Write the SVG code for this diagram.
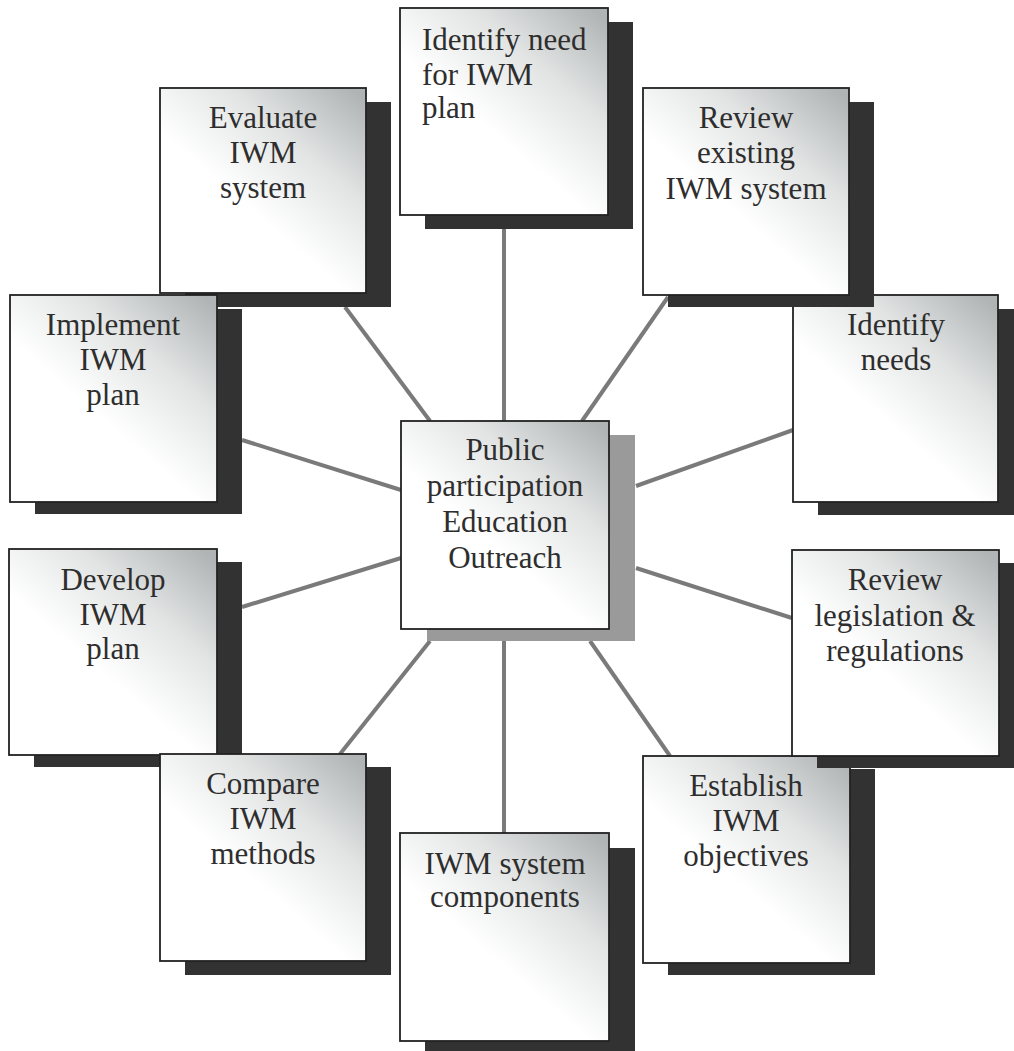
<svg xmlns="http://www.w3.org/2000/svg" width="1014" height="1051" viewBox="0 0 1014 1051">
<style>
.box{fill:url(#g);stroke:#222;stroke-width:1.8}
.sh{fill:#323232}
.shc{fill:#9a9a9a}
.t{font-family:"Liberation Serif","Times New Roman",serif;font-size:31px;fill:#2e2e2e;text-anchor:middle}
.tl{text-anchor:start}
.c{stroke:#7a7a7a;stroke-width:4;fill:none;stroke-linecap:butt}
</style>
<defs>
<linearGradient id="g" x1="0.95" y1="0.02" x2="0.45" y2="0.6">
<stop offset="0" stop-color="#b0b4b4"/>
<stop offset="0.5" stop-color="#e2e4e4"/>
<stop offset="1" stop-color="#ffffff"/>
</linearGradient>
</defs>
<rect width="1014" height="1051" fill="#ffffff"/>
<g id="connectors">
<line class="c" x1="504" y1="229" x2="504" y2="421"/>
<line class="c" x1="504" y1="641" x2="504" y2="833"/>
<line class="c" x1="345" y1="307" x2="430" y2="421"/>
<line class="c" x1="668" y1="297" x2="582" y2="421"/>
<line class="c" x1="242" y1="440" x2="401" y2="490"/>
<line class="c" x1="793" y1="430" x2="636" y2="486"/>
<line class="c" x1="242" y1="607" x2="401" y2="558"/>
<line class="c" x1="636" y1="568" x2="792" y2="618"/>
<line class="c" x1="430" y1="641" x2="340" y2="754"/>
<line class="c" x1="590" y1="641" x2="670" y2="756"/>
</g>
<g id="n-evaluate">
<rect class="sh" x="185" y="102" width="206" height="205"/>
<rect class="box" x="160" y="88" width="206" height="205"/>
<text class="t"><tspan x="263" y="128">Evaluate</tspan><tspan x="263" y="163">IWM</tspan><tspan x="263" y="198">system</tspan></text>
</g>
<g id="n-implement">
<rect class="sh" x="35" y="309" width="207" height="205"/>
<rect class="box" x="10" y="295" width="207" height="207"/>
<text class="t"><tspan x="113" y="335">Implement</tspan><tspan x="113" y="370">IWM</tspan><tspan x="113" y="405">plan</tspan></text>
</g>
<g id="n-needs">
<rect class="sh" x="818" y="309" width="205" height="206"/>
<rect class="box" x="793" y="295" width="205" height="207"/>
<text class="t"><tspan x="896" y="335">Identify</tspan><tspan x="896" y="370">needs</tspan></text>
</g>
<g id="n-review-existing">
<rect class="sh" x="668" y="102" width="206" height="205"/>
<rect class="box" x="643" y="88" width="206" height="207"/>
<text class="t"><tspan x="746" y="128">Review</tspan><tspan x="746" y="163">existing</tspan><tspan x="746" y="199">IWM system</tspan></text>
</g>
<g id="n-develop">
<rect class="sh" x="34" y="562" width="208" height="205"/>
<rect class="box" x="9" y="549" width="208" height="206"/>
<text class="t"><tspan x="113" y="590">Develop</tspan><tspan x="113" y="625">IWM</tspan><tspan x="113" y="659">plan</tspan></text>
</g>
<g id="n-compare">
<rect class="sh" x="185" y="767" width="206" height="208"/>
<rect class="box" x="160" y="754" width="206" height="207"/>
<text class="t"><tspan x="263" y="794">Compare</tspan><tspan x="263" y="829">IWM</tspan><tspan x="263" y="864">methods</tspan></text>
</g>
<g id="n-establish">
<rect class="sh" x="668" y="769" width="207" height="206"/>
<rect class="box" x="643" y="756" width="207" height="207"/>
<text class="t"><tspan x="746" y="796">Establish</tspan><tspan x="746" y="831">IWM</tspan><tspan x="746" y="866">objectives</tspan></text>
</g>
<g id="n-legislation">
<rect class="sh" x="817" y="563" width="207" height="205"/>
<rect class="box" x="792" y="550" width="207" height="206"/>
<text class="t"><tspan x="895" y="590">Review</tspan><tspan x="895" y="626">legislation &amp;</tspan><tspan x="895" y="661">regulations</tspan></text>
</g>
<g id="n-need-plan">
<rect class="sh" x="425" y="22" width="208" height="207"/>
<rect class="box" x="400" y="8" width="208" height="207"/>
<text class="t tl"><tspan x="422" y="50">Identify need</tspan><tspan x="422" y="85">for IWM</tspan><tspan x="422" y="118">plan</tspan></text>
</g>
<g id="n-components">
<rect class="sh" x="425" y="848" width="210" height="210"/>
<rect class="box" x="400" y="833" width="209" height="208"/>
<text class="t"><tspan x="505" y="874">IWM system</tspan><tspan x="505" y="907">components</tspan></text>
</g>
<g id="n-center">
<rect class="shc" x="427" y="435" width="208" height="206"/>
<rect class="box" x="401" y="421" width="208" height="208"/>
<text class="t"><tspan x="505" y="460">Public</tspan><tspan x="505" y="496">participation</tspan><tspan x="505" y="532">Education</tspan><tspan x="505" y="568">Outreach</tspan></text>
</g>
</svg>
